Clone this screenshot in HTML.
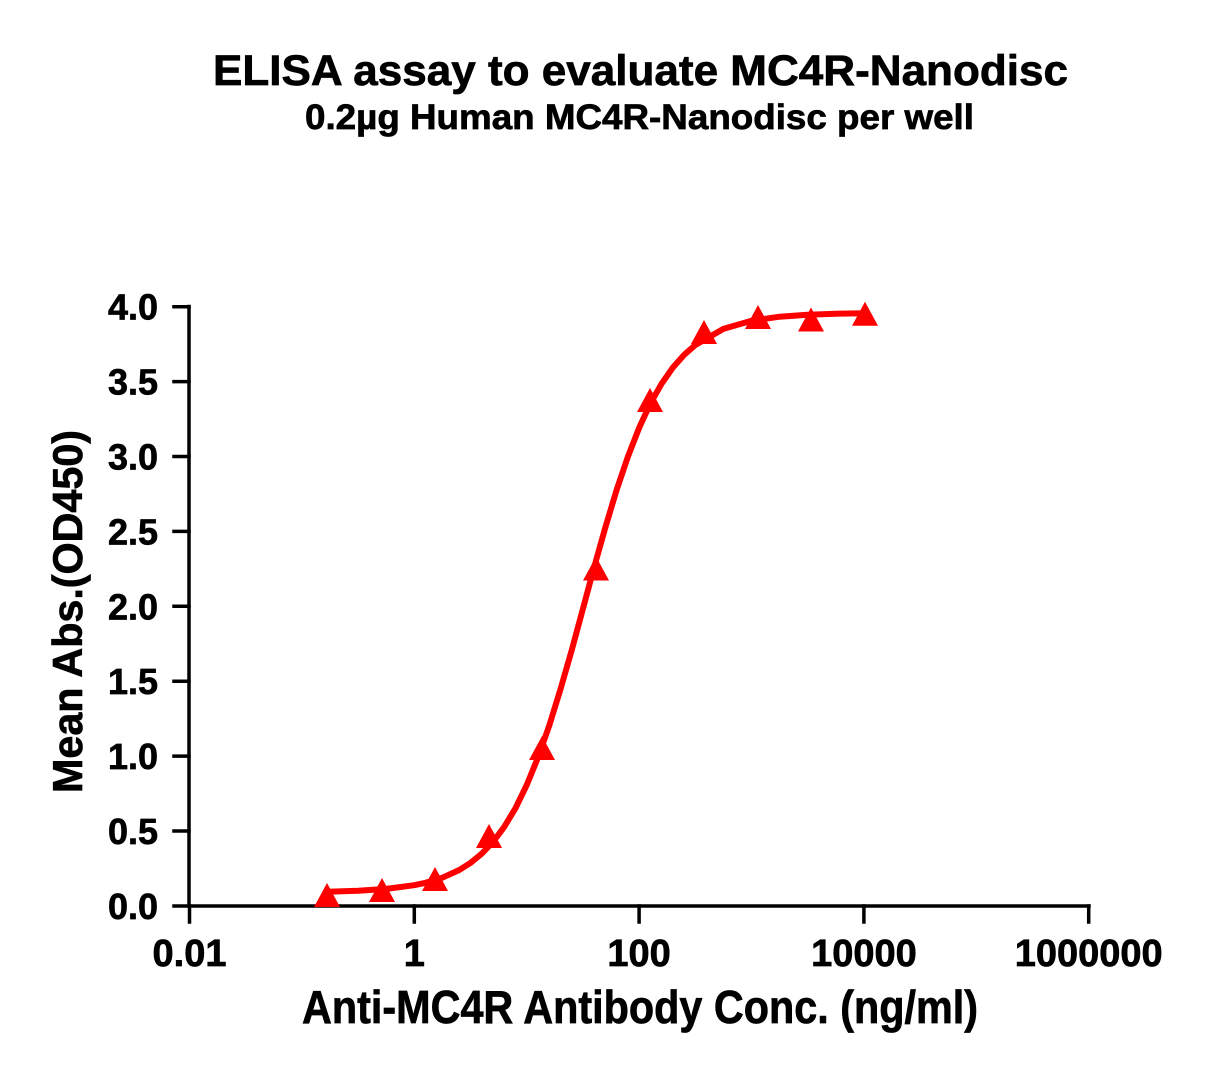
<!DOCTYPE html>
<html>
<head>
<meta charset="utf-8">
<style>
  html, body { margin: 0; padding: 0; background: #ffffff; }
  svg { display: block; }
  text { font-family: "Liberation Sans", Arial, sans-serif; font-weight: bold; fill: #000; stroke: #000; stroke-width: 0.7px; }
</style>
</head>
<body>
<svg width="1217" height="1075" viewBox="0 0 1217 1075" xmlns="http://www.w3.org/2000/svg">
  <rect x="0" y="0" width="1217" height="1075" fill="#ffffff"/>

  <!-- Titles -->
  <text x="640.5" y="85" font-size="43" text-anchor="middle" textLength="855" lengthAdjust="spacingAndGlyphs">ELISA assay to evaluate MC4R-Nanodisc</text>
  <text x="639.5" y="129" font-size="35" text-anchor="middle" textLength="669" lengthAdjust="spacingAndGlyphs">0.2µg Human MC4R-Nanodisc per well</text>

  <!-- Axes -->
  <g stroke="#000" stroke-width="3.5" fill="none" stroke-linecap="square">
    <line x1="189" y1="306.5" x2="189" y2="906"/>
    <line x1="189" y1="906" x2="1089" y2="906"/>
    <!-- y ticks -->
    <line x1="174" y1="306.7" x2="189" y2="306.7"/>
    <line x1="174" y1="381.6" x2="189" y2="381.6"/>
    <line x1="174" y1="456.5" x2="189" y2="456.5"/>
    <line x1="174" y1="531.4" x2="189" y2="531.4"/>
    <line x1="174" y1="606.3" x2="189" y2="606.3"/>
    <line x1="174" y1="681.2" x2="189" y2="681.2"/>
    <line x1="174" y1="756.1" x2="189" y2="756.1"/>
    <line x1="174" y1="831.0" x2="189" y2="831.0"/>
    <line x1="174" y1="906" x2="189" y2="906"/>
    <!-- x ticks -->
    <line x1="189.5" y1="906" x2="189.5" y2="922"/>
    <line x1="414.3" y1="906" x2="414.3" y2="922"/>
    <line x1="639.1" y1="906" x2="639.1" y2="922"/>
    <line x1="863.9" y1="906" x2="863.9" y2="922"/>
    <line x1="1088.7" y1="906" x2="1088.7" y2="922"/>
  </g>

  <!-- Y tick labels -->
  <g font-size="36" text-anchor="end">
    <text x="158" y="319.7">4.0</text>
    <text x="158" y="394.6">3.5</text>
    <text x="158" y="469.5">3.0</text>
    <text x="158" y="544.4">2.5</text>
    <text x="158" y="619.3">2.0</text>
    <text x="158" y="694.2">1.5</text>
    <text x="158" y="769.1">1.0</text>
    <text x="158" y="844.0">0.5</text>
    <text x="158" y="919.0">0.0</text>
  </g>

  <!-- X tick labels -->
  <g font-size="38" text-anchor="middle">
    <text x="189.5" y="966">0.01</text>
    <text x="414.3" y="966">1</text>
    <text x="639.1" y="966">100</text>
    <text x="863.9" y="966">10000</text>
    <text x="1088.7" y="966">1000000</text>
  </g>

  <!-- Axis titles -->
  <text x="640" y="1023" font-size="46" text-anchor="middle" textLength="676" lengthAdjust="spacingAndGlyphs">Anti-MC4R Antibody Conc. (ng/ml)</text>
  <text transform="translate(82,611.5) rotate(-90)" x="0" y="0" font-size="42" text-anchor="middle" textLength="363" lengthAdjust="spacingAndGlyphs">Mean Abs.(OD450)</text>

  <!-- Fitted curve -->
  <polyline fill="none" stroke="#ff0000" stroke-width="6" stroke-linejoin="round" stroke-linecap="round"
    points="327.5,891.7 358.1,890.8 386.2,888.9 414.3,885.2 425.5,882.8 442.4,877.7 459.3,870.0 470.5,862.9 481.7,853.7 493.0,841.9 504.2,826.9 515.5,808.2 526.7,785.1 537.9,757.7 549.2,725.7 560.4,689.5 571.7,650.3 582.9,608.9 594.1,567.4 605.4,527.3 616.6,490.0 627.9,456.7 639.1,427.9 650.3,403.6 661.6,383.7 672.8,367.6 684.1,354.9 695.3,345.0 723.4,328.9 751.5,320.8 779.6,316.7 807.7,314.7 835.8,313.8 863.9,313.2"/>

  <!-- Data markers -->
  <g fill="#ff0000">
    <polygon points="327,883 314,907 340,907"/>
    <polygon points="382,878 369,902 395,902"/>
    <polygon points="435,867 422,891 448,891"/>
    <polygon points="489,824 476,848 502,848"/>
    <polygon points="542,736 529,760 555,760"/>
    <polygon points="596,556.5 583,580.5 609,580.5"/>
    <polygon points="650,388 637,412 663,412"/>
    <polygon points="704,320 691,344 717,344"/>
    <polygon points="758,305 745,329 771,329"/>
    <polygon points="811,307.5 798,331.5 824,331.5"/>
    <polygon points="865,301.7 852,325.7 878,325.7"/>
  </g>
</svg>
</body>
</html>
